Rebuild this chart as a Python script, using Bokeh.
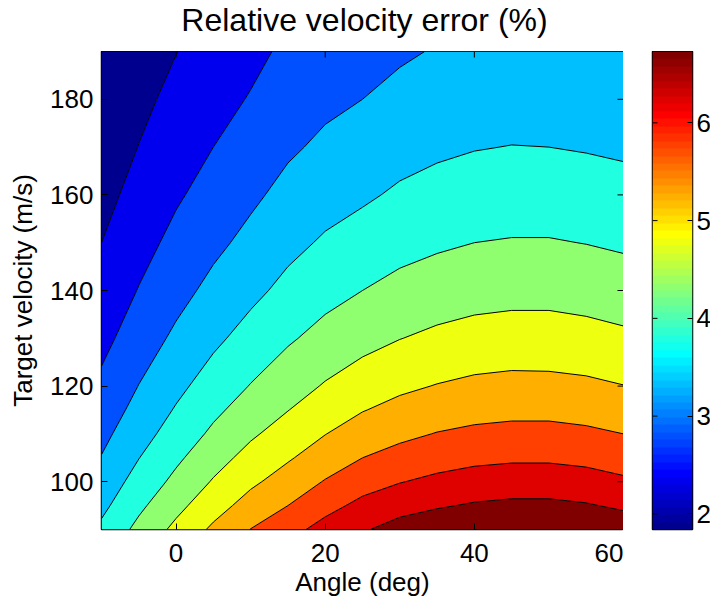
import numpy as np
from bokeh.plotting import figure
from bokeh.layouts import row, column
from bokeh.models import LinearColorMapper, FixedTicker, Range1d
from bokeh.core.properties import value
from bokeh.embed import file_html
from bokeh.resources import INLINE

# ---------------- data ----------------
angles = [-10, -5, 0, 5, 10, 15, 20, 25, 30, 35, 40, 45, 50, 55, 60]
velocities = [90, 95, 100, 105, 110, 115, 120, 130, 140, 150, 160, 170, 180, 190]

# relative velocity error (%) per angle column, ordered like `velocities`
err_by_angle = [
    [3.60, 3.38, 3.20, 3.02, 2.87, 2.73, 2.60, 2.36, 2.17, 2.00, 1.85, 1.71, 1.60, 1.49],  # -10
    [4.13, 3.90, 3.68, 3.49, 3.31, 3.15, 3.01, 2.75, 2.52, 2.33, 2.16, 2.01, 1.88, 1.76],  # -5
    [4.62, 4.36, 4.12, 3.91, 3.71, 3.54, 3.38, 3.09, 2.84, 2.63, 2.44, 2.28, 2.13, 1.99],  # 0
    [5.09, 4.80, 4.54, 4.31, 4.09, 3.90, 3.72, 3.40, 3.13, 2.89, 2.68, 2.50, 2.34, 2.19],  # 5
    [5.51, 5.19, 4.91, 4.66, 4.43, 4.21, 4.02, 3.68, 3.38, 3.13, 2.91, 2.71, 2.53, 2.38],  # 10
    [5.83, 5.50, 5.21, 4.95, 4.71, 4.49, 4.29, 3.94, 3.63, 3.37, 3.14, 2.93, 2.75, 2.59],  # 15
    [6.18, 5.84, 5.53, 5.24, 4.99, 4.76, 4.54, 4.16, 3.84, 3.56, 3.31, 3.09, 2.90, 2.73],  # 20
    [6.45, 6.13, 5.80, 5.50, 5.23, 4.98, 4.75, 4.34, 4.00, 3.70, 3.43, 3.20, 3.00, 2.82],  # 25
    [6.69, 6.32, 5.98, 5.67, 5.39, 5.14, 4.91, 4.49, 4.14, 3.84, 3.57, 3.33, 3.12, 2.94],  # 30
    [6.83, 6.45, 6.11, 5.80, 5.52, 5.26, 5.02, 4.60, 4.24, 3.93, 3.66, 3.42, 3.21, 3.03],  # 35
    [6.94, 6.55, 6.20, 5.89, 5.60, 5.34, 5.10, 4.68, 4.31, 4.00, 3.72, 3.48, 3.26, 3.07],  # 40
    [6.98, 6.60, 6.25, 5.93, 5.64, 5.38, 5.14, 4.71, 4.35, 4.03, 3.75, 3.51, 3.29, 3.10],  # 45
    [6.98, 6.60, 6.25, 5.93, 5.64, 5.38, 5.13, 4.71, 4.35, 4.03, 3.75, 3.50, 3.29, 3.10],  # 50
    [6.93, 6.54, 6.19, 5.88, 5.59, 5.33, 5.09, 4.67, 4.30, 3.99, 3.71, 3.47, 3.25, 3.06],  # 55
    [6.80, 6.42, 6.08, 5.77, 5.50, 5.24, 5.01, 4.59, 4.24, 3.93, 3.66, 3.43, 3.22, 3.03],  # 60
]

contour_levels = [2.0, 2.5, 3.0, 3.5, 4.0, 4.5, 5.0, 5.5, 6.0, 6.5]
x_ticks = [0, 20, 40, 60]
y_ticks = [100, 120, 140, 160, 180]
cbar_ticks = [2, 3, 4, 5, 6]
cbar_low, cbar_high = 1.84, 6.73

title_text = "Relative velocity error (%)"
x_label = "Angle (deg)"
y_label = "Target velocity (m/s)"

# ---------------- style / layout ----------------
FONT = "Liberation Sans"
LEFT, FRAME_W, FRAME_H = 101, 522, 478
TOP_H, BOTTOM_H = 51, 74
CB_GAP, CB_W, CB_RIGHT = 29, 40, 18
TOTAL_W = LEFT + FRAME_W + CB_GAP + CB_W + CB_RIGHT


def jet(m=64):
    n = m // 4
    u = np.concatenate([np.arange(1, n + 1) / n, np.ones(n - 1), np.arange(n, 0, -1) / n])
    g0 = int(np.ceil(n / 2)) - (1 if m % 4 == 1 else 0)
    idx = np.arange(1, len(u) + 1)
    rgb = np.zeros((m, 3))
    for ch, shift in ((0, n), (1, 0), (2, -n)):
        rows = g0 + idx + shift
        ok = (rows >= 1) & (rows <= m)
        rgb[rows[ok] - 1, ch] = u[ok]
    return ["#%02x%02x%02x" % tuple(int(round(c * 255)) for c in r) for r in rgb]


jet64 = jet(64)
band_rows = [0, 6, 12, 19, 25, 32, 38, 44, 51, 57, 63]
band_colors = [jet64[i] for i in band_rows]

Z = np.array(err_by_angle).T  # shape (len(velocities), len(angles))
levels = [float(Z.min()) - 0.05] + contour_levels + [float(Z.max()) + 0.05]

# ---------------- title strip ----------------
t = figure(
    frame_width=TOTAL_W, frame_height=TOP_H,
    x_range=Range1d(0, TOTAL_W), y_range=Range1d(0, TOP_H),
    output_backend="svg", toolbar_location=None,
    min_border=0,
)
t.axis.visible = False
t.grid.visible = False
t.outline_line_color = None
t.background_fill_color = "white"
t.border_fill_color = "white"
t.text(x=[LEFT + FRAME_W / 2 + 2], y=[32], text=[title_text],
       text_align="center", text_baseline="alphabetic",
       text_font=value(FONT), text_font_size=value("32px"), text_color="black")

# ---------------- main contour panel ----------------
p = figure(
    frame_width=FRAME_W, frame_height=FRAME_H,
    x_range=Range1d(angles[0], angles[-1]), y_range=Range1d(velocities[0], velocities[-1]),
    output_backend="svg", toolbar_location=None,
    min_border_left=LEFT, min_border_top=0, min_border_bottom=BOTTOM_H, min_border_right=0,
)
p.background_fill_color = "white"
p.border_fill_color = "white"
p.grid.visible = False
p.outline_line_color = "black"
p.outline_line_width = 1.5

p.contour(x=angles, y=velocities, z=Z, levels=levels,
          fill_color=band_colors, line_color="black", line_width=1)


def style_axis(ax, ticks, standoff, label_standoff):
    ax.ticker = FixedTicker(ticks=ticks)
    ax.axis_line_color = None
    ax.major_tick_in = 6
    ax.major_tick_out = 0
    ax.major_tick_line_color = "black"
    ax.major_tick_line_width = 1
    ax.minor_tick_line_color = None
    ax.major_label_text_font = FONT
    ax.major_label_text_color = "black"
    ax.major_label_text_font_size = "26px"
    ax.major_label_standoff = standoff
    ax.axis_label_text_font = FONT
    ax.axis_label_text_font_size = "26px"
    ax.axis_label_text_font_style = "normal"
    ax.axis_label_text_color = "black"
    ax.axis_label_standoff = label_standoff


style_axis(p.xaxis[0], x_ticks, 14, 2)
style_axis(p.yaxis[0], y_ticks, 8, 9)
p.xaxis[0].axis_label = x_label
p.yaxis[0].axis_label = y_label

# inward ticks on the top and right edges of the box
p.ray(x=x_ticks, y=[velocities[-1]] * len(x_ticks), length=6, length_units="screen",
      angle=-np.pi / 2, line_color="black", line_width=1)
p.ray(x=[angles[-1]] * len(y_ticks), y=y_ticks, length=6, length_units="screen",
      angle=np.pi, line_color="black", line_width=1)

# ---------------- colour bar panel ----------------
mapper = LinearColorMapper(palette=jet64, low=cbar_low, high=cbar_high)
step = (cbar_high - cbar_low) / len(jet64)
grad = (cbar_low + step * (np.arange(len(jet64)) + 0.5)).reshape(-1, 1)

cb = figure(
    frame_width=CB_W, frame_height=FRAME_H,
    x_range=Range1d(0, 1), y_range=Range1d(cbar_low, cbar_high),
    y_axis_location="right",
    output_backend="svg", toolbar_location=None,
    min_border_left=CB_GAP, min_border_top=0, min_border_bottom=BOTTOM_H,
    min_border_right=CB_RIGHT,
)
cb.background_fill_color = "white"
cb.border_fill_color = "white"
cb.grid.visible = False
cb.xaxis.visible = False
cb.outline_line_color = "black"
cb.outline_line_width = 1.5
cb.image(image=[grad], x=0, y=cbar_low, dw=1, dh=cbar_high - cbar_low, color_mapper=mapper)
style_axis(cb.yaxis[0], cbar_ticks, 4, 0)
cb.yaxis[0].major_tick_in = 5
cb.ray(x=[0] * len(cbar_ticks), y=cbar_ticks, length=5, length_units="screen",
       angle=0, line_color="black", line_width=1)

layout = column(t, row(p, cb))
open("out.html", "w").write(file_html(layout, INLINE))
